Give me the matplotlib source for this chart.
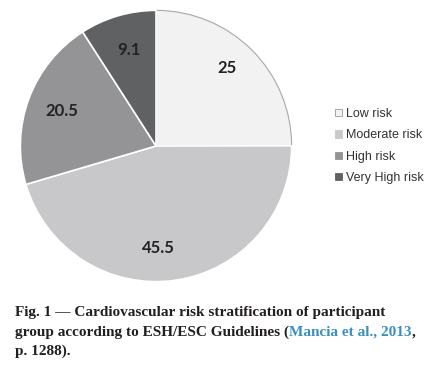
import numpy as np
import matplotlib.pyplot as plt
from matplotlib.patches import Patch

labels = ['Low risk', 'Moderate risk', 'High risk', 'Very High risk']
values = [25, 45.5, 20.5, 9.1]
colors = ['#f2f2f2', '#c8c8ca', '#949497', '#606163']

fig = plt.figure(figsize=(4.3, 3.68), dpi=100)
ax = fig.add_axes([19/430, 85/368, 274/430, 274/368])

wedges, texts, autotexts = ax.pie(values, colors=colors, startangle=90, counterclock=False,
                                  autopct=lambda p: '', pctdistance=0.74,
                                  wedgeprops=dict(edgecolor='white', linewidth=1.2))
wedges[0].set_edgecolor('#a8a8a8')
wedges[0].set_linewidth(0.8)
# label placement a bit like Excel's "best fit"
nudge = [(0.0, 0.05), (-0.09, -0.02), (0, 0), (0.01, 0)]
for t, v, d in zip(autotexts, values, nudge):
    x, y = t.get_position()
    t.set_position((x + d[0], y + d[1]))
    t.set_text('%g' % v)
    t.set_fontfamily('Lato')
    t.set_fontweight('bold')
    t.set_fontsize(12)
    t.set_color('#222222')
ax.set_xlim(-1.01, 1.01)
ax.set_ylim(-1.01, 1.01)
ax.set_aspect('equal')

handles = [Patch(facecolor=c, edgecolor=('#999999' if i == 0 else c), linewidth=0.6)
           for i, c in enumerate(colors)]
fig.legend(handles, labels, loc='center left', bbox_to_anchor=(324/430, 1 - 146/368),
           frameon=False, handlelength=0.55, handleheight=0.55,
           handletextpad=0.3, labelspacing=0.75, prop={'family': 'Liberation Sans', 'size': 9},
           labelcolor='#333333')

# caption
cap = dict(fontfamily='Liberation Serif', fontweight='bold', fontsize=11, color='#231f20')
fig.text(15/430, 1 - 316/368, 'Fig. 1 \u2014 Cardiovascular risk stratification of participant', **cap)
t1 = fig.text(15/430, 1 - 335.5/368, 'group according to ESH/ESC Guidelines (', **cap)
t2 = ax.annotate('Mancia et al., 2013', xy=(1, 0), xycoords=t1, va='bottom', ha='left',
                 fontfamily='Liberation Serif', fontweight='bold', fontsize=11, color='#3a8ec0',
                 annotation_clip=False)
ax.annotate(',', xy=(1, 0), xycoords=t2, va='bottom', ha='left', annotation_clip=False, **cap)
fig.text(15/430, 1 - 355/368, 'p. 1288).', **cap)

fig.savefig('out.png', dpi=100)
